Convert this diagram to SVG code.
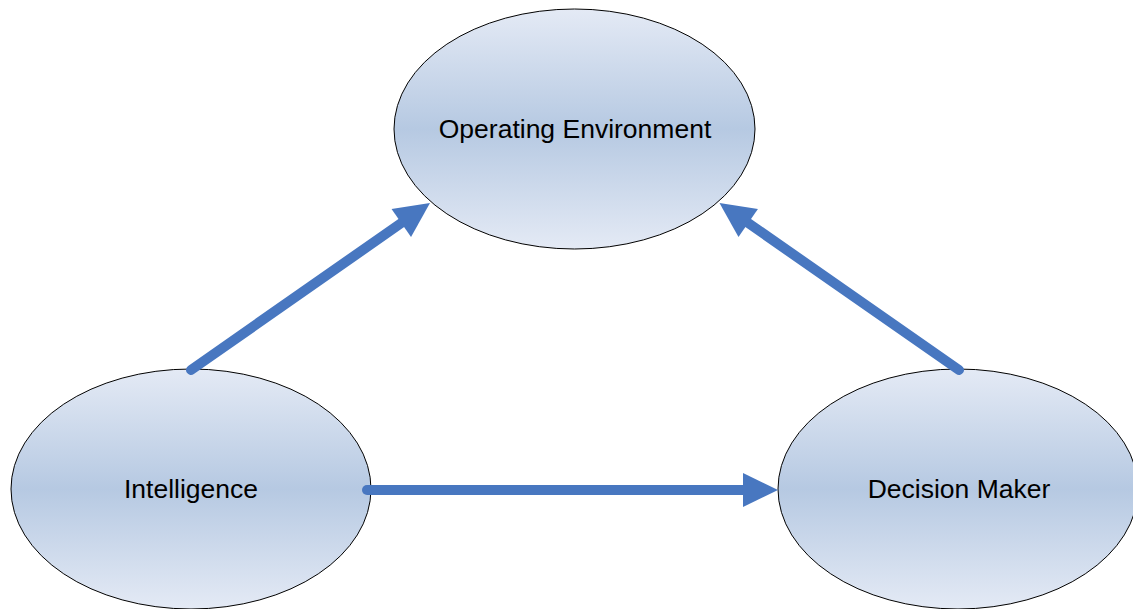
<svg xmlns="http://www.w3.org/2000/svg" width="1133" height="609" viewBox="0 0 1133 609">
  <style>
    .node { fill: url(#g); stroke: #000; stroke-width: 1; }
    .label { font-family: "Liberation Sans", Arial, sans-serif; font-size: 26.5px; fill: #000; text-anchor: middle; }
    .conn { stroke: #4877C0; stroke-width: 10; stroke-linecap: round; fill: none; marker-end: url(#arrow); }
  </style>
  <defs>
    <linearGradient id="g" x1="0" y1="0" x2="0" y2="1">
      <stop offset="0" stop-color="#E4EAF5"/>
      <stop offset="0.5" stop-color="#B6C9E2"/>
      <stop offset="1" stop-color="#E4EAF5"/>
    </linearGradient>
    <marker id="arrow" markerUnits="userSpaceOnUse" markerWidth="36" markerHeight="36" refX="0" refY="17" orient="auto" viewBox="0 0 36 34" overflow="visible">
      <path d="M0,0 L35,17 L0,34 z" fill="#4877C0"/>
    </marker>
  </defs>
  <rect width="1133" height="609" fill="#fff"/>
  <g id="node-operating-environment">
    <ellipse class="node" cx="574.5" cy="129" rx="180.5" ry="120"/>
    <text class="label" x="575" y="138">Operating Environment</text>
  </g>
  <g id="node-intelligence">
    <ellipse class="node" cx="191" cy="489" rx="180" ry="120"/>
    <text class="label" x="191" y="498">Intelligence</text>
  </g>
  <g id="node-decision-maker">
    <ellipse class="node" cx="958" cy="489" rx="180" ry="120"/>
    <text class="label" x="959" y="498">Decision Maker</text>
  </g>
  <g id="connectors">
    <line class="conn" x1="191" y1="370" x2="401.3" y2="223"/>
    <line class="conn" x1="959" y1="370" x2="748.2" y2="223"/>
    <line class="conn" x1="367" y1="490" x2="743" y2="490"/>
  </g>
</svg>
